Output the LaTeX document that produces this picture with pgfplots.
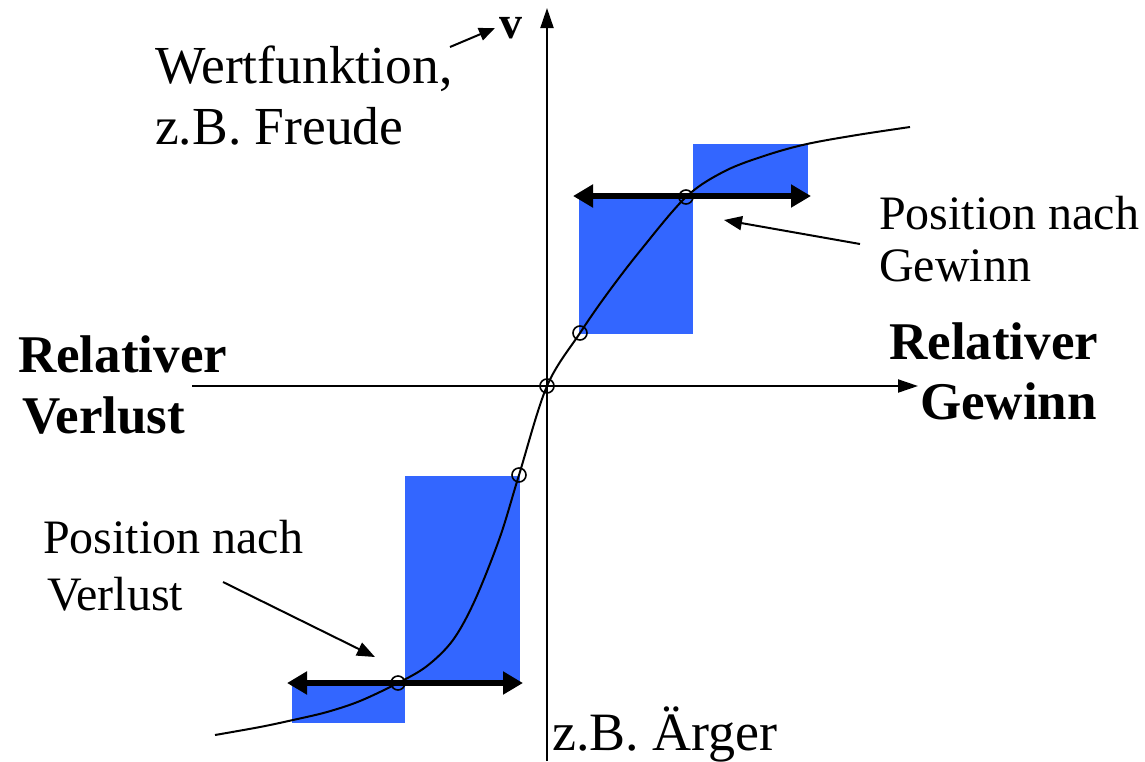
\documentclass[border=0pt]{standalone}
\usepackage{pgfplots}
\pgfplotsset{compat=1.18}
\usepackage{fontspec}
\setmainfont{Liberation Serif}
\usetikzlibrary{arrows.meta}
\definecolor{boxblue}{RGB}{51,102,255}
\begin{document}
\begin{tikzpicture}
\useasboundingbox (0,0) rectangle (1145pt,761pt);
\begin{axis}[at={(0,0)}, anchor=south west, scale only axis,
  width=1145pt, height=761pt, xmin=0, xmax=1145, ymin=0, ymax=761,
  y dir=reverse, hide axis, clip=false]
% blue rectangles
\addplot[fill=boxblue, draw=none] coordinates {(579,197) (693,197) (693,334) (579,334)};
\addplot[fill=boxblue, draw=none] coordinates {(693,144) (808,144) (808,197) (693,197)};
\addplot[fill=boxblue, draw=none] coordinates {(405,476) (520,476) (520,684) (405,684)};
\addplot[fill=boxblue, draw=none] coordinates {(292,684) (405,684) (405,723) (292,723)};
% axes
\addplot[line width=2pt, -{Triangle[length=20pt,width=13pt]}] coordinates {(547,761) (547,8)};
\addplot[line width=2pt, -{Triangle[length=20pt,width=13pt]}] coordinates {(192,386) (918,386)};
% value function
\addplot[line width=2pt, smooth, tension=0.55] coordinates {
(215,735) (260,727) (293,720) (327,712) (360,701) (398,683) (427,666) (453,640)
(475,600) (500,537) (519,475) (547,386)
(580,333) (607,294) (640,251) (686,197) (725,171) (767,155) (807,144)
(857,135) (910,127)};
% thick double arrows
\addplot[line width=6pt, {Triangle[length=20pt,width=22pt]}-{Triangle[length=20pt,width=22pt]}] coordinates {(573,196) (811,196)};
\addplot[line width=6pt, {Triangle[length=20pt,width=22pt]}-{Triangle[length=20pt,width=22pt]}] coordinates {(287,683) (523,683)};
% thin annotation arrows
\addplot[line width=2pt, -{Triangle[length=16pt,width=13pt]}] coordinates {(450,47) (495,28)};
\addplot[line width=2pt, -{Triangle[length=18pt,width=14pt]}] coordinates {(860,244) (724,220)};
\addplot[line width=2pt, -{Triangle[length=18pt,width=14pt]}] coordinates {(223,582) (375,657)};
% circles
\addplot[only marks, mark=o, mark size=7pt, mark options={line width=1.6pt}] coordinates {
(398,683) (519,475) (547,386) (580,333) (686,197)};
% texts
\node[anchor=base west, inner sep=0pt, font=\fontsize{53.5}{53.5}\selectfont] at (axis cs:155,83) {Wertfunktion,};
\node[anchor=base west, inner sep=0pt, font=\fontsize{53.5}{53.5}\selectfont] at (axis cs:155,144) {z.B. Freude};
\node[anchor=base west, inner sep=0pt, font=\fontsize{46}{46}\selectfont\bfseries] at (axis cs:499,38) {v};
\node[anchor=base west, inner sep=0pt, font=\fontsize{53}{53}\selectfont\bfseries] at (axis cs:18,372) {Relativer};
\node[anchor=base west, inner sep=0pt, font=\fontsize{53}{53}\selectfont\bfseries] at (axis cs:22,433) {Verlust};
\node[anchor=base west, inner sep=0pt, font=\fontsize{53}{53}\selectfont\bfseries] at (axis cs:889,359) {Relativer};
\node[anchor=base west, inner sep=0pt, font=\fontsize{53}{53}\selectfont\bfseries] at (axis cs:920,419) {Gewinn};
\node[anchor=base west, inner sep=0pt, font=\fontsize{48}{48}\selectfont] at (axis cs:879,229) {Position nach};
\node[anchor=base west, inner sep=0pt, font=\fontsize{48}{48}\selectfont] at (axis cs:879,281) {Gewinn};
\node[anchor=base west, inner sep=0pt, font=\fontsize{48}{48}\selectfont] at (axis cs:43,553) {Position nach};
\node[anchor=base west, inner sep=0pt, font=\fontsize{48}{48}\selectfont] at (axis cs:47,610) {Verlust};
\node[anchor=base west, inner sep=0pt, font=\fontsize{54}{54}\selectfont] at (axis cs:552,750) {z.B. Ärger};
\end{axis}
\end{tikzpicture}
\end{document}
